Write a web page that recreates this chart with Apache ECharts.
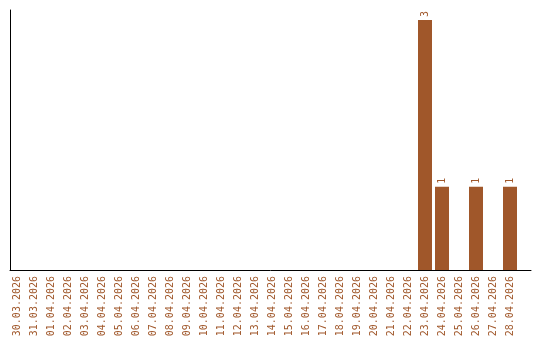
<!DOCTYPE html>
<html><head><meta charset="utf-8">
<script src="https://cdn.jsdelivr.net/npm/echarts@6/dist/echarts.min.js"></script>
<style>html,body{margin:0;padding:0;background:#fff}#c{width:540px;height:340px}</style>
</head><body><div id="c"></div>
<script>
const categories = ["30.03.2026","31.03.2026","01.04.2026","02.04.2026","03.04.2026","04.04.2026","05.04.2026","06.04.2026","07.04.2026","08.04.2026","09.04.2026","10.04.2026","11.04.2026","12.04.2026","13.04.2026","14.04.2026","15.04.2026","16.04.2026","17.04.2026","18.04.2026","19.04.2026","20.04.2026","21.04.2026","22.04.2026","23.04.2026","24.04.2026","25.04.2026","26.04.2026","27.04.2026","28.04.2026"];
const values = [0,0,0,0,0,0,0,0,0,0,0,0,0,0,0,0,0,0,0,0,0,0,0,0,3,1,0,1,0,1];
const chart = echarts.init(document.getElementById('c'), null, {renderer:'canvas'});
const brown = '#a0572a';
chart.setOption({
  animation:false,
  grid:[{left:8.5,right:21.5,top:20,bottom:70,containLabel:false},
        {left:10,right:9,top:10,bottom:70,containLabel:false}],
  xAxis:[{type:'category',data:categories,gridIndex:0,
    axisLine:{show:false},
    axisTick:{show:false},
    axisLabel:{rotate:90,interval:0,color:brown,fontFamily:'DejaVu Sans Mono',fontSize:10,margin:6}},
    {type:'value',gridIndex:1,min:0,max:1,axisLine:{show:true,lineStyle:{color:'#000',width:1}},
     axisTick:{show:false},axisLabel:{show:false},splitLine:{show:false}}],
  yAxis:[{type:'value',min:0,max:3,gridIndex:0,show:false},
    {type:'value',gridIndex:1,min:0,max:3,
    axisLine:{show:true,lineStyle:{color:'#000',width:1}},
    axisTick:{show:false},axisLabel:{show:false},splitLine:{show:false}}],
  series:[{type:'bar',data:values.map(v=>v===0?null:v),barWidth:14,xAxisIndex:0,yAxisIndex:0,
    itemStyle:{color:brown},
    label:{show:true,position:'top',rotate:90,align:'left',verticalAlign:'middle',distance:3,
      color:brown,fontFamily:'DejaVu Sans Mono',fontSize:10}}]
});
</script></body></html>
